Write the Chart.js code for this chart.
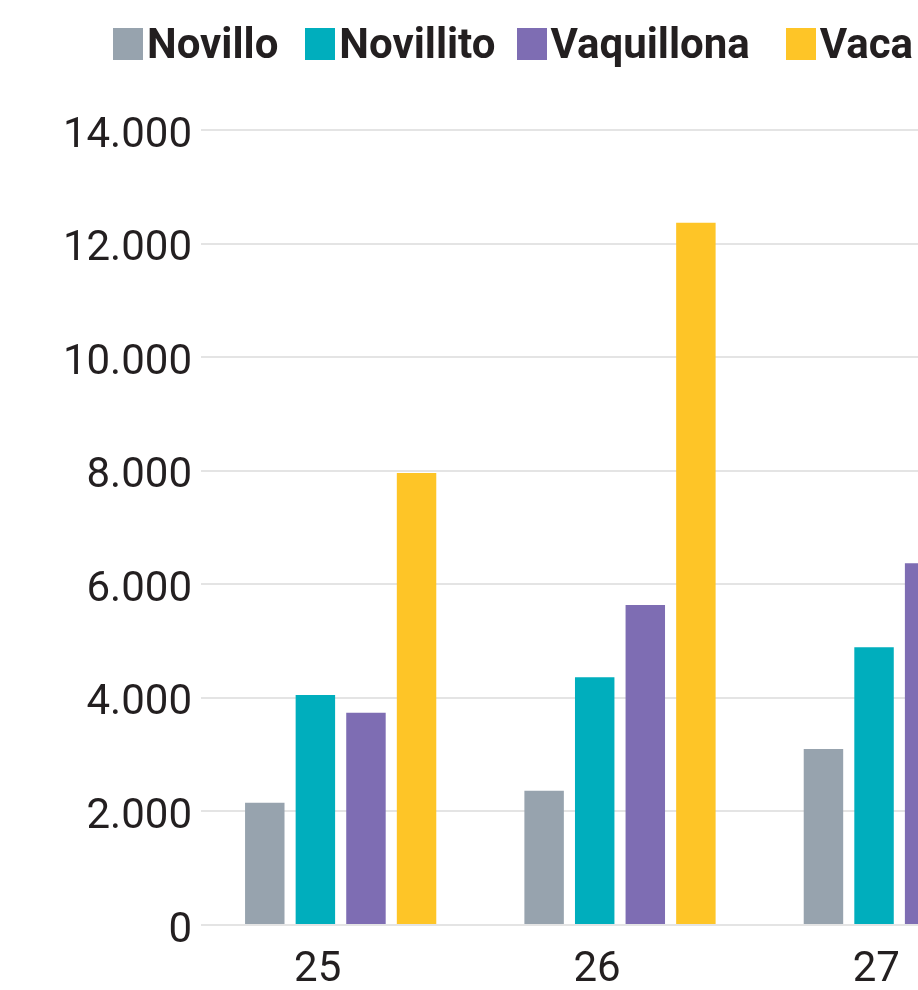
<!DOCTYPE html>
<html>
<head>
<meta charset="utf-8">
<script src="https://cdn.jsdelivr.net/npm/chart.js@4.4.1/dist/chart.umd.min.js"></script>
<style>
  html, body { margin: 0; padding: 0; background: #fff; overflow: hidden; width: 918px; height: 990px; }
  #contenedor { position: relative; width: 1040px; height: 990px; }
  #leyenda { position: absolute; top: 19px; left: 113px; display: flex; align-items: center; white-space: nowrap;
             font-family: Roboto, sans-serif; font-weight: bold; font-size: 42px; color: #231f20; }
  #leyenda .item { display: flex; align-items: center; }
  #leyenda .item:nth-child(1) { margin-right: 27px; }
  #leyenda .item:nth-child(2) { margin-right: 21px; }
  #leyenda .item:nth-child(3) { margin-right: 36px; }
  #leyenda .caja { width: 30px; height: 32px; margin-right: 4px; }
</style>
</head>
<body>
<div id="contenedor">
  <canvas id="grafico" width="1040" height="990"></canvas>
  <div id="leyenda"></div>
</div>
<script>
// datos
let categorias = ["25", "26", "27"];
let series = ["Novillo", "Novillito", "Vaquillona", "Vaca"];
let novillo = [2154, 2365, 3099];
let novillito = [4050, 4362, 4890];
let vaquillona = [3739, 5635, 6370];
let vaca = [7960, 12368, 10500];
let ticksY = [0, 2000, 4000, 6000, 8000, 10000, 12000, 14000];

let colores = ["#97a3ae", "#00aebd", "#7e6db3", "#fec527"];
let valores = [novillo, novillito, vaquillona, vaca];

function formatoMiles(v){
    return String(v).replace(/\B(?=(\d{3})+(?!\d))/g, ".");
}

// leyenda en html
let leyenda = document.getElementById("leyenda");
series.forEach((nombre, i) => {
    let item = document.createElement("div");
    item.className = "item";
    let caja = document.createElement("span");
    caja.className = "caja";
    caja.style.background = colores[i];
    let texto = document.createElement("span");
    texto.innerText = nombre;
    item.appendChild(caja);
    item.appendChild(texto);
    leyenda.appendChild(item);
});

// linea del cero encima de las barras
const lineaCero = {
    id: "lineaCero",
    afterDatasetsDraw(chart){
        const ctx = chart.ctx;
        const y = chart.scales.y.getPixelForValue(0);
        ctx.save();
        ctx.strokeStyle = "rgba(228,228,228,0.75)";
        ctx.lineWidth = 2;
        ctx.beginPath();
        ctx.moveTo(chart.chartArea.left, y);
        ctx.lineTo(chart.chartArea.right, y);
        ctx.stroke();
        ctx.restore();
    }
};

const ctx = document.getElementById("grafico");

let grafico = new Chart(ctx, {
    type: "bar",
    data: {
        labels: categorias,
        datasets: series.map((nombre, i) => ({
            label: nombre,
            data: valores[i],
            backgroundColor: colores[i],
            borderWidth: 0,
            categoryPercentage: 0.7244,
            barPercentage: 0.78
        }))
    },
    options: {
        responsive: false,
        animation: false,
        devicePixelRatio: 1,
        layout: { padding: { top: 130, right: 1, left: 0, bottom: 0 } },
        plugins: {
            legend: { display: false },
            tooltip: { enabled: false }
        },
        scales: {
            x: {
                grid: { display: false, drawTicks: false },
                border: { display: false },
                ticks: {
                    color: "#231f20",
                    font: { family: "Roboto", size: 42 },
                    padding: 20,
                    labelOffset: -23,
                    maxRotation: 0
                },
                afterFit: (scale) => { scale.height = 65; }
            },
            y: {
                min: 0,
                max: 14000,
                afterBuildTicks: (scale) => { scale.ticks = ticksY.map(v => ({ value: v })); },
                grid: { color: "#e4e4e4", lineWidth: 2, drawTicks: false },
                border: { display: false },
                ticks: {
                    color: "#231f20",
                    font: { family: "Roboto", size: 42 },
                    padding: 9,
                    labelOffset: 6,
                    callback: (v) => formatoMiles(v)
                },
                afterFit: (scale) => { scale.width = 201; }
            }
        }
    },
    plugins: [lineaCero]
});
</script>
</body>
</html>
